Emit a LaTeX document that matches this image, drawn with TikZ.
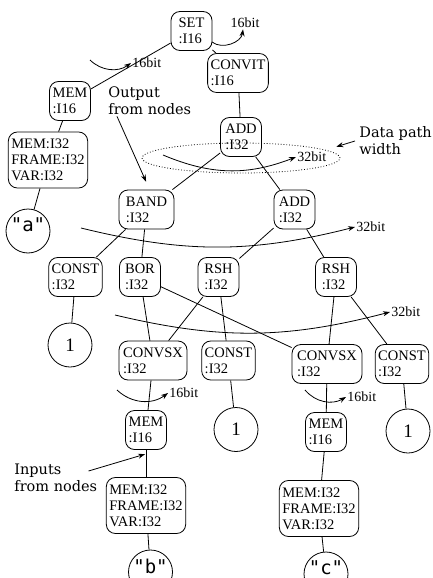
\documentclass[tikz,border=0pt]{standalone}
\usepackage{fontspec}
\setmainfont{Liberation Serif}
\newfontfamily\notefont{DejaVu Serif}
\newfontfamily\strfont{DejaVu Sans Mono}
\usetikzlibrary{positioning,shapes.geometric,arrows.meta}

\begin{document}
\begin{tikzpicture}[
% Change style
	x=1pt, y=-1pt,
	line width=0.8pt,
	on grid,
	op/.style={draw, rounded corners=9pt, align=left, inner xsep=3pt, inner ysep=4pt,
		minimum width=41pt, minimum height=39pt, font=\fontsize{14.5}{16}\selectfont},
	memf/.style={op, minimum height=56pt},
	num/.style={draw, circle, minimum size=44pt, inner sep=0pt, font=\fontsize{19}{20}\selectfont},
	str/.style={num, text depth=12pt, font=\strfont\fontsize{19}{20}\selectfont},
	bits/.style={inner sep=1pt, font=\fontsize{14}{15}\selectfont},
	note/.style={align=left, inner sep=1pt, font=\notefont\fontsize{14.5}{17}\selectfont},
	dpath/.style={draw, dotted, ellipse, minimum width=198pt, minimum height=30pt},
	post/.style={->, shorten >=1pt, >={Stealth[length=7pt,width=5pt]}},
	bitarrow/.style={->, >={Stealth[length=7pt,width=5pt]}}]

\useasboundingbox (0,0) rectangle (433,578);

% Root
\node[op] (set) at (191.5,31) {SET\\:I16};

% Left branch
\node[op, below left=70pt and 121.5pt of set] (mem1) {MEM\\:I16};
\node[memf, below left=59pt and 22pt of mem1] (mfa) {MEM:I32\\FRAME:I32\\VAR:I32};
\node[str, below left=71pt and 20pt of mfa] (stra) {"a"};

% Right branch
\node[op, below right=42pt and 46.5pt of set] (convit) {CONVIT\\:I16};
\node[op, below right=64pt and 3pt of convit] (addt) {ADD\\:I32};
\node[dpath, below=21pt of addt] (dpw) {};

\node[op, minimum width=55pt, below left=72.5pt and 94.5pt of addt] (band) {BAND\\:I32};
\node[op, below right=72.5pt and 53.5pt of addt] (addm) {ADD\\:I32};

% Third row
\node[op, below left=67.5pt and 71pt of band] (consta) {CONST\\:I32};
\node[op, below left=67.5pt and 6.5pt of band] (bor) {BOR\\:I32};
\node[op, below left=67.5pt and 76pt of addm] (rsha) {RSH\\:I32};
\node[op, below right=67.5pt and 41.5pt of addm] (rshb) {RSH\\:I32};
\node[num, below left=68pt and 5.5pt of consta] (onea) {1};

% Fourth row
\node[op, minimum width=68pt, below right=83.5pt and 13pt of bor] (convsxa) {CONVSX\\:I32};
\node[op, below right=83.5pt and 10pt of rsha] (constb) {CONST\\:I32};
\node[op, minimum width=70pt, below left=87pt and 9pt of rshb] (convsxb) {CONVSX\\:I32};
\node[op, below right=87pt and 66pt of rshb] (constc) {CONST\\:I32};

% Fifth row
\node[op, below left=69.5pt and 7pt of convsxa] (memb) {MEM\\:I16};
\node[num, below right=69pt and 7.5pt of constb] (oneb) {1};
\node[op, below left=68pt and 1pt of convsxb] (memc) {MEM\\:I16};
\node[num, below right=67pt and 6pt of constc] (onec) {1};

% Leaves
\node[memf, below=75.5pt of memb] (mfb) {MEM:I32\\FRAME:I32\\VAR:I32};
\node[memf, below left=76.5pt and 7pt of memc] (mfc) {MEM:I32\\FRAME:I32\\VAR:I32};
\node[str, below right=66.5pt and 4.5pt of mfb] (strb) {"b"};
\node[str, below right=65.5pt and 7pt of mfc] (strc) {"c"};

% Connections
\draw (set) edge (mem1)
	(set) edge (convit)
	(mem1) edge (mfa)
	(mfa) edge (stra)
	(convit) edge (addt)
	(addt) edge (band)
	(addt) edge (addm)
	(band) edge (consta)
	(band) edge (bor)
	(addm) edge (rsha)
	(addm) edge (rshb)
	(consta) edge (onea)
	(bor) edge (convsxa)
	(bor) edge (convsxb)
	(rsha) edge (convsxa)
	(rsha) edge (constb)
	(rshb) edge (convsxb)
	(rshb) edge (constc)
	(convsxa) edge (memb)
	(constb) edge (oneb)
	(convsxb) edge (memc)
	(constc) edge (onec)
	(memb) edge (mfb)
	(memc) edge (mfc)
	(mfb) edge (strb)
	(mfc) edge (strc);

% Width marks
\coordinate (bitA) at (90,60);
\node[bits, anchor=west] (bitAl) at (131,63) {16bit};
\coordinate (bitB) at (212,42);
\node[bits] (bitBl) at (245,23) {16bit};
\coordinate (bitC) at (163,155);
\node[bits, anchor=west] (bitCl) at (296,157) {32bit};
\coordinate (bitD) at (81,228);
\node[bits, anchor=west] (bitDl) at (355,227) {32bit};
\coordinate (bitE) at (115,315);
\node[bits, anchor=west] (bitEl) at (390,312) {32bit};
\coordinate (bitF) at (117,390);
\node[bits, anchor=west] (bitFl) at (168,393) {16bit};
\coordinate (bitG) at (305,390);
\node[bits, anchor=west] (bitGl) at (346,397) {16bit};

\draw[bitarrow] (bitA) to[bend right=40] (bitAl.west);
\draw[bitarrow] (bitB) to[bend right=60] ([xshift=-2pt]bitBl.south);
\draw[bitarrow] (bitC) to[bend right=22] (bitCl.west);
\draw[bitarrow] (bitD) to[bend right=14] (bitDl.west);
\draw[bitarrow] (bitE) to[bend right=14] (bitEl.west);
\draw[bitarrow] (bitF) to[bend right=40] (bitFl.west);
\draw[bitarrow] (bitG) to[bend right=40] (bitGl.west);

% Notes
\node[note, anchor=west] (outnote) at (107,101) {Output\\from nodes};
\node[note, anchor=west] (dpnote) at (358,141) {Data path\\width};
\node[note, anchor=west] (innote) at (13,478) {Inputs\\from nodes};

\draw[post] ([xshift=10pt]outnote.south west) -- ([yshift=7pt]band.north);
\draw[post] ([xshift=-3pt]dpnote.west) -- ([shift={(-5pt,11pt)}]dpw.east);
\draw[post] ([shift={(-10pt,7pt)}]innote.east) -- ([yshift=-4pt]memb.south);

\end{tikzpicture}
\end{document}
